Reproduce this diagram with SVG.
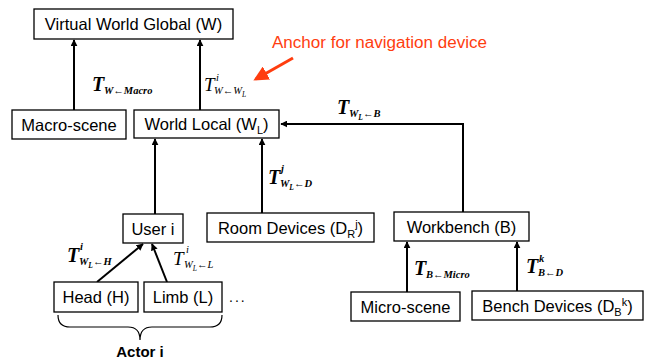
<svg xmlns="http://www.w3.org/2000/svg" width="645" height="360" viewBox="0 0 645 360">
  <defs>
    <marker id="ah" viewBox="0 0 10 10" refX="9" refY="5" markerWidth="7" markerHeight="7" markerUnits="userSpaceOnUse" orient="auto">
      <path d="M0,0 L10,5 L0,10 z" fill="#000"/>
    </marker>
    <marker id="ahRed" viewBox="0 0 10 10" refX="8" refY="5" markerWidth="5" markerHeight="5" orient="auto">
      <path d="M0,0 L10,5 L0,10 z" fill="#ff3d0f"/>
    </marker>
    <style>
      .box { fill: #fff; stroke: #000; stroke-width: 1.3; }
      .lbl { font-family: "Liberation Sans", Arial, sans-serif; font-size: 16.5px; fill: #000; text-anchor: middle; }
      .conn { stroke: #000; stroke-width: 2; fill: none; }
      .mT { font-family: "Liberation Serif", "Times New Roman", serif; font-style: italic; font-weight: bold; font-size: 20px; fill: #000; }
      .mTr { font-family: "Liberation Serif", "Times New Roman", serif; font-style: italic; font-size: 19px; fill: #000; }
      .ms { font-family: "Liberation Serif", "Times New Roman", serif; font-style: italic; font-weight: bold; font-size: 10.5px; fill: #000; }
      .msr { font-family: "Liberation Serif", "Times New Roman", serif; font-style: italic; font-size: 10.5px; fill: #000; }
      .sub { font-size: 7.5px; }
      .note { font-family: "Liberation Sans", Arial, sans-serif; font-size: 16px; fill: #ff3d0f; }
    </style>
  </defs>

  <!-- connectors -->
  <g id="connectors">
    <line class="conn" x1="74" y1="110" x2="74" y2="40" marker-end="url(#ah)"/>
    <line class="conn" x1="200" y1="110" x2="200" y2="40" marker-end="url(#ah)"/>
    <line class="conn" x1="155" y1="214" x2="155" y2="139" marker-end="url(#ah)"/>
    <line class="conn" x1="262" y1="213" x2="262" y2="139" marker-end="url(#ah)"/>
    <polyline class="conn" points="463,212 463,124 281,124" marker-end="url(#ah)"/>
    <line class="conn" x1="97" y1="282" x2="143" y2="244" marker-end="url(#ah)"/>
    <line class="conn" x1="167" y1="282" x2="152" y2="244" marker-end="url(#ah)"/>
    <line class="conn" x1="407" y1="292" x2="407" y2="242" marker-end="url(#ah)"/>
    <line class="conn" x1="517" y1="291" x2="517" y2="242" marker-end="url(#ah)"/>

    <!-- transform labels -->
    <text class="mT" x="92" y="91">T</text>
    <text class="ms" x="104" y="94">W←Macro</text>

    <text class="mTr" x="204" y="91">T</text>
    <text class="msr" x="216" y="81">i</text>
    <text class="msr" x="214" y="94">W←W<tspan class="sub" dy="3">L</tspan></text>

    <text class="mT" x="337" y="114">T</text>
    <text class="ms" x="349" y="117">W<tspan class="sub" dy="3">L</tspan><tspan dy="-3">←B</tspan></text>

    <text class="mT" x="268" y="184">T</text>
    <text class="ms" x="281" y="172">j</text>
    <text class="ms" x="280" y="187">W<tspan class="sub" dy="3">L</tspan><tspan dy="-3">←D</tspan></text>

    <text class="mT" x="67" y="262">T</text>
    <text class="ms" x="80" y="250">i</text>
    <text class="ms" x="79" y="265">W<tspan class="sub" dy="3">L</tspan><tspan dy="-3">←H</tspan></text>

    <text class="mTr" x="173" y="265">T</text>
    <text class="msr" x="186" y="253">i</text>
    <text class="msr" x="184" y="268">W<tspan class="sub" dy="3">L</tspan><tspan dy="-3">←L</tspan></text>

    <text class="mT" x="414" y="275">T</text>
    <text class="ms" x="426" y="278">B←Micro</text>

    <text class="mT" x="526" y="273">T</text>
    <text class="ms" x="539" y="262">k</text>
    <text class="ms" x="538" y="276">B←D</text>
  </g>

  <!-- annotation -->
  <g id="anchor-note">
    <text class="note" x="272" y="48" textLength="215" lengthAdjust="spacingAndGlyphs">Anchor for navigation device</text>
    <line x1="293" y1="58" x2="256" y2="79" stroke="#ff3d0f" stroke-width="3" marker-end="url(#ahRed)"/>
  </g>

  <g id="node-w">
    <rect class="box" x="34" y="9" width="199" height="30"/>
    <text class="lbl" x="133.5" y="30">Virtual World Global (W)</text>
  </g>
  <g id="node-macro">
    <rect class="box" x="12" y="110" width="114" height="29"/>
    <text class="lbl" x="69" y="131">Macro-scene</text>
  </g>
  <g id="node-wl">
    <rect class="box" x="134" y="110" width="145" height="28"/>
    <text class="lbl" x="206.5" y="130">World Local (W<tspan font-size="11" dy="4">L</tspan><tspan dy="-4">)</tspan></text>
  </g>
  <g id="node-user">
    <rect class="box" x="123" y="214" width="60" height="29"/>
    <text class="lbl" x="153" y="235">User i</text>
  </g>
  <g id="node-room">
    <rect class="box" x="207" y="213" width="167" height="29"/>
    <text class="lbl" x="290.5" y="234">Room Devices (D<tspan font-size="11" dy="4">R</tspan><tspan font-size="11" dy="-10">j</tspan><tspan dy="6">)</tspan></text>
  </g>
  <g id="node-bench">
    <rect class="box" x="394" y="212" width="135" height="29"/>
    <text class="lbl" x="461.5" y="233">Workbench (B)</text>
  </g>
  <g id="node-head">
    <rect class="box" x="54" y="282" width="84" height="30"/>
    <text class="lbl" x="96" y="303">Head (H)</text>
  </g>
  <g id="node-limb">
    <rect class="box" x="144" y="282" width="78" height="30"/>
    <text class="lbl" x="183" y="303">Limb (L)</text>
  </g>
  <g id="node-micro">
    <rect class="box" x="351" y="292" width="109" height="29"/>
    <text class="lbl" x="405.5" y="313">Micro-scene</text>
  </g>
  <g id="node-benchdev">
    <rect class="box" x="472" y="291" width="171" height="29"/>
    <text class="lbl" x="557.5" y="312">Bench Devices (D<tspan font-size="11" dy="4">B</tspan><tspan font-size="11" dy="-10">k</tspan><tspan dy="6">)</tspan></text>
  </g>

  <!-- actor grouping -->
  <g id="actor">
    <text x="229" y="302" font-family="Liberation Sans, Arial, sans-serif" font-size="14" letter-spacing="2">...</text>
    <path d="M58,315 Q58,327 70,327 L128,327 Q140,327 140,340 Q140,327 152,327 L210,327 Q222,327 222,315" fill="none" stroke="#000" stroke-width="1.2"/>
    <text x="140" y="357" text-anchor="middle" font-family="Liberation Sans, Arial, sans-serif" font-size="15" font-weight="bold">Actor i</text>
  </g>
</svg>
